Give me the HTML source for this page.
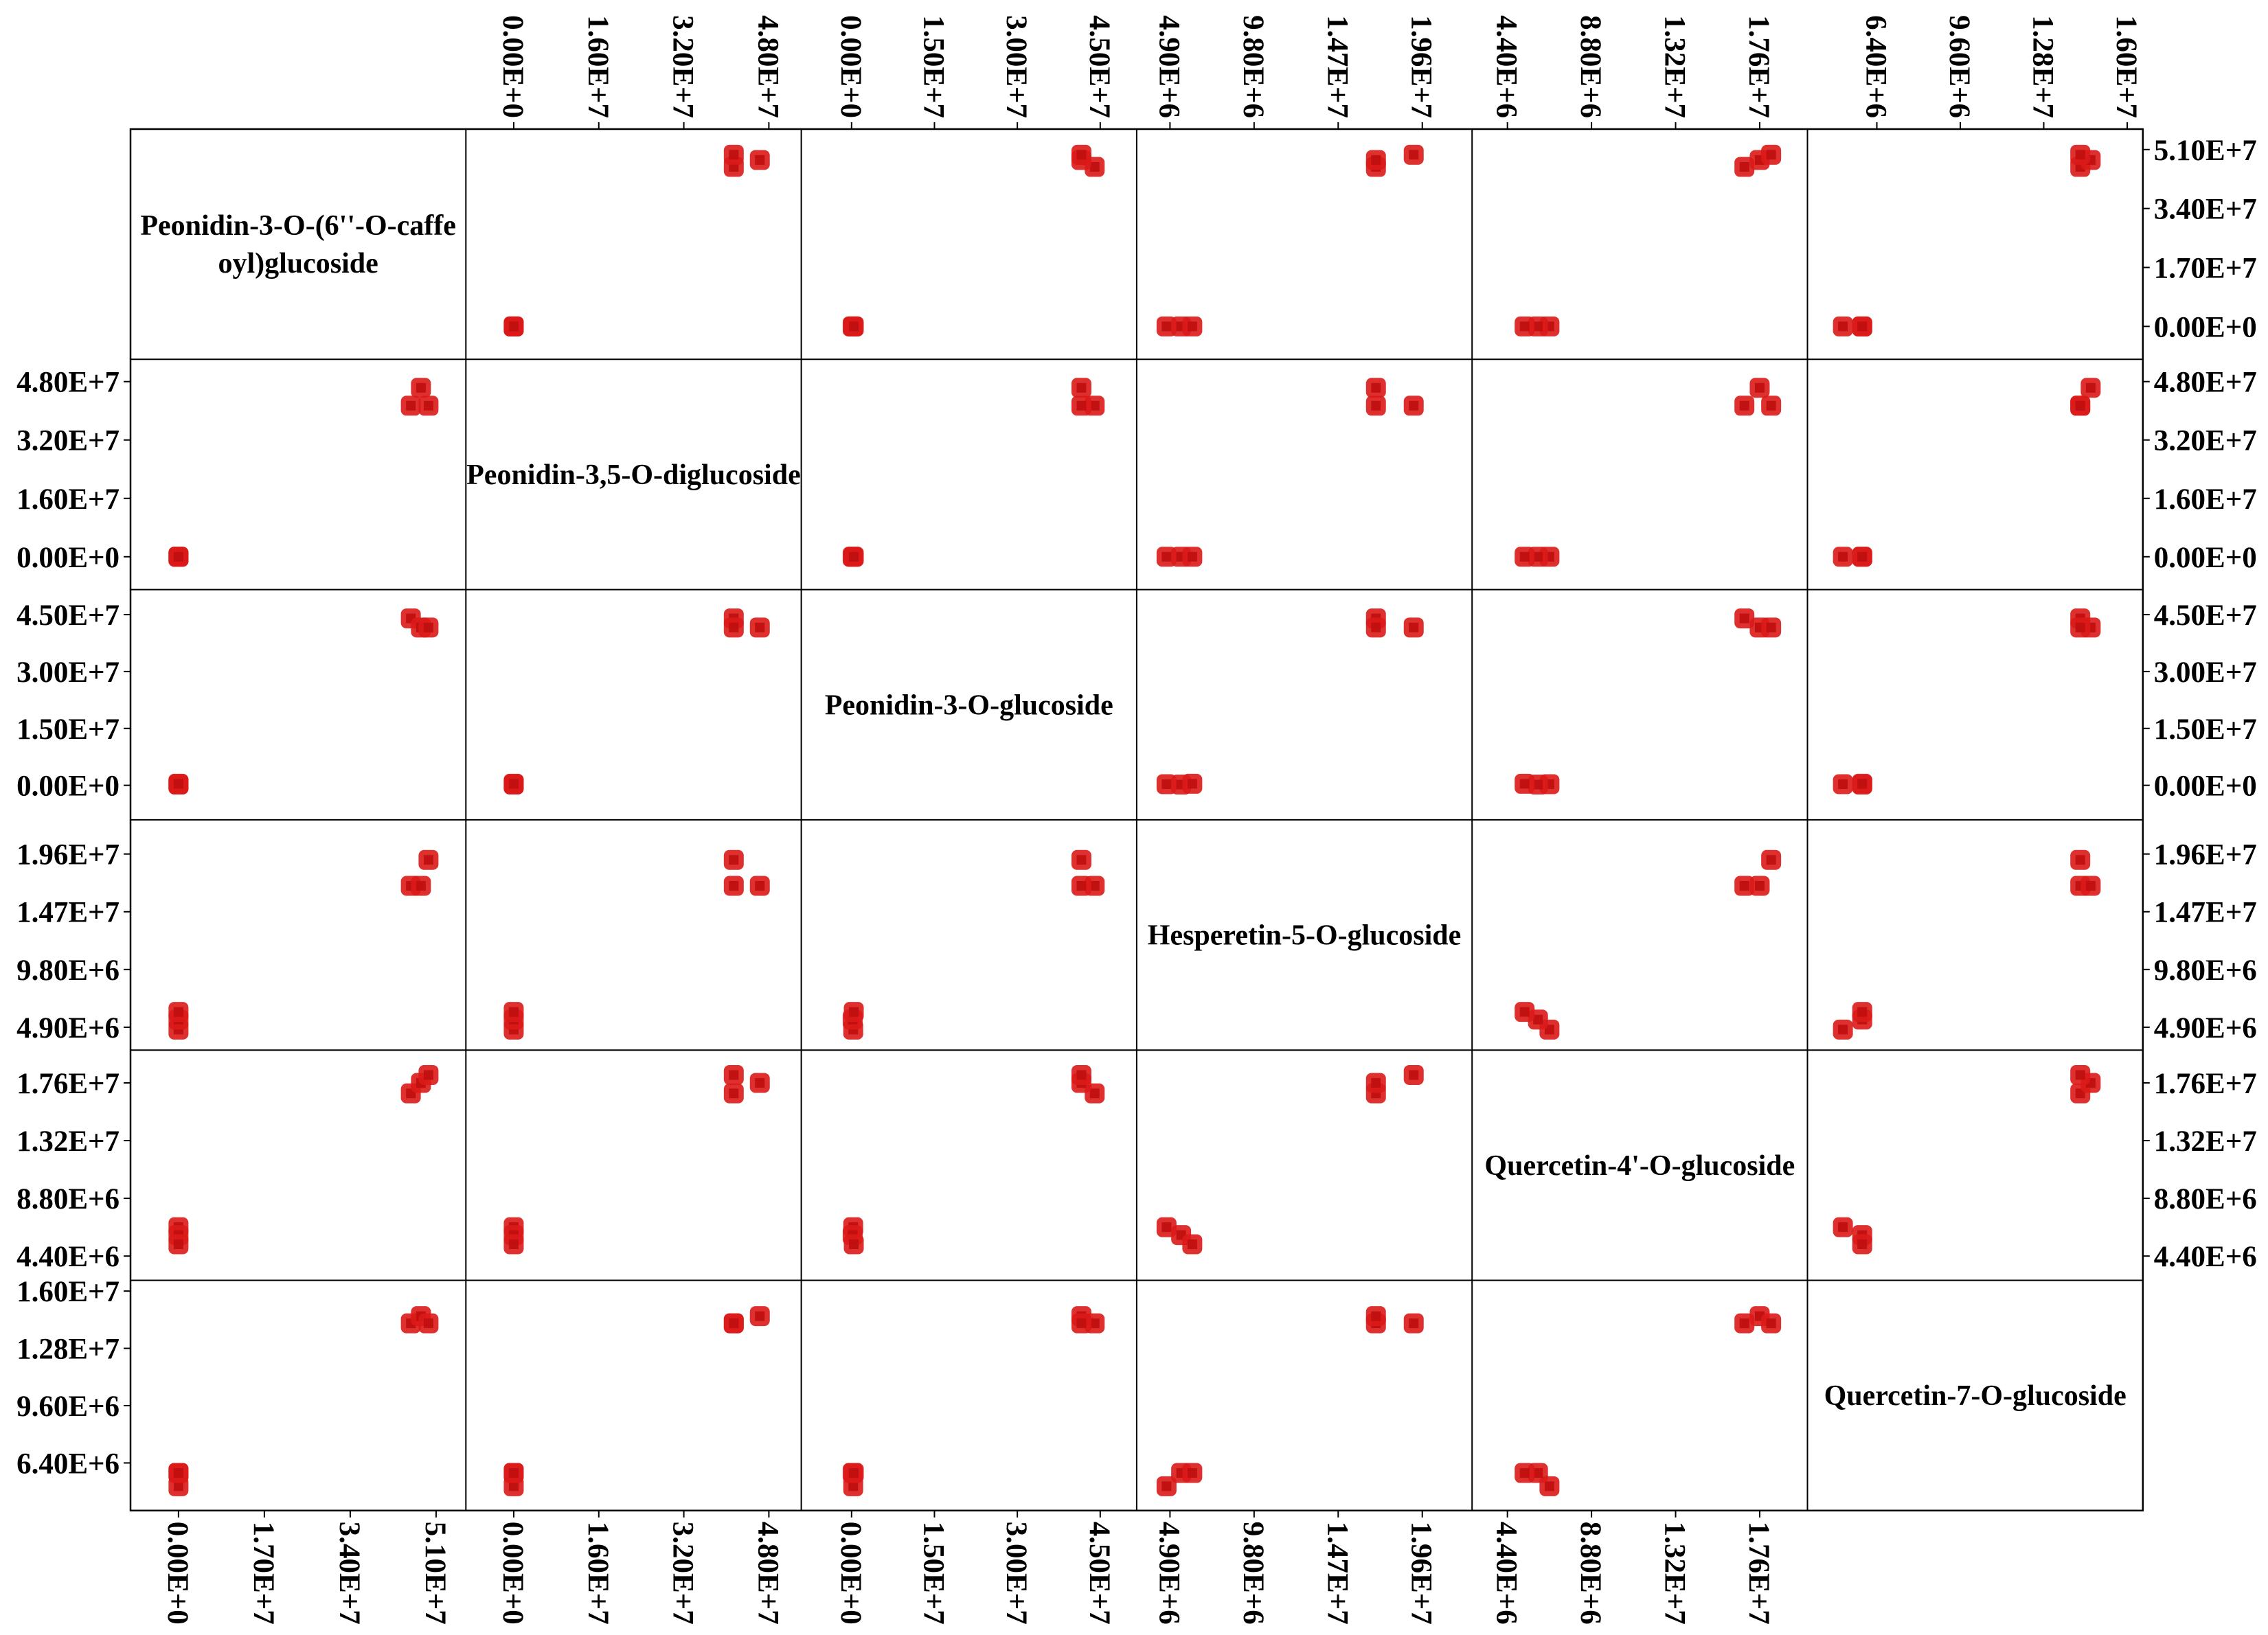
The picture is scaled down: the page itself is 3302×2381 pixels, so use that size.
<!DOCTYPE html>
<html><head><meta charset="utf-8">
<style>
html,body{margin:0;padding:0;background:#fff;}
svg{display:block;}
text{font-family:"Liberation Serif",serif;font-weight:bold;fill:#000;}
</style></head>
<body>
<svg id="chart" width="3302" height="2381" viewBox="0 0 3302 2381" xmlns="http://www.w3.org/2000/svg"></svg>
<script>
// variable names (diagonal)
const varNames = ["Peonidin-3-O-(6''-O-caffe|oyl)glucoside","Peonidin-3,5-O-diglucoside","Peonidin-3-O-glucoside","Hesperetin-5-O-glucoside","Quercetin-4'-O-glucoside","Quercetin-7-O-glucoside"];
// tick values per variable
const tickValues = [
  [0,1.7e7,3.4e7,5.1e7],
  [0,1.6e7,3.2e7,4.8e7],
  [0,1.5e7,3.0e7,4.5e7],
  [4.9e6,9.8e6,1.47e7,1.96e7],
  [4.4e6,8.8e6,1.32e7,1.76e7],
  [6.4e6,9.6e6,1.28e7,1.6e7]
];
const tickLabels = [
  ["0.00E+0","1.70E+7","3.40E+7","5.10E+7"],
  ["0.00E+0","1.60E+7","3.20E+7","4.80E+7"],
  ["0.00E+0","1.50E+7","3.00E+7","4.50E+7"],
  ["4.90E+6","9.80E+6","1.47E+7","1.96E+7"],
  ["4.40E+6","8.80E+6","1.32E+7","1.76E+7"],
  ["6.40E+6","9.60E+6","1.28E+7","1.60E+7"]
];
// axis ranges per variable
const rangeMin = [-0.95e7,-0.90e7,-0.91e7,2.96e6,2.55e6,3.74e6];
const rangeMax = [5.69e7,5.41e7,5.16e7,2.25e7,2.01e7,1.66e7];
// sample values (6 samples) per variable
const var1 = [0.0,0.0,0.0,4.60e7,4.80e7,4.95e7];
const var2 = [0.0,0.0,0.0,4.14e7,4.63e7,4.14e7];
const var3 = [0.03e7,0.02e7,0.04e7,4.40e7,4.16e7,4.16e7];
const var4 = [4.7e6,5.55e6,6.2e6,1.69e7,1.69e7,1.91e7];
const var5 = [6.6e6,6.0e6,5.3e6,1.68e7,1.76e7,1.82e7];
const var6 = [5.1e6,5.84e6,5.84e6,1.42e7,1.46e7,1.42e7];
const seriesVals = [var1,var2,var3,var4,var5,var6];

const NS="http://www.w3.org/2000/svg";
const svg=document.getElementById('chart');
const L=190,T=188,CW=488.3,RH=335.3,N=6;
function mk(tag,attrs,parent){const e=document.createElementNS(NS,tag);for(const k in attrs)e.setAttribute(k,attrs[k]);(parent||svg).appendChild(e);return e;}
function xScale(v,col){return L+col*CW+(v-rangeMin[col])/(rangeMax[col]-rangeMin[col])*CW;}
function yScale(v,row){return T+(row+1)*RH-(v-rangeMin[row])/(rangeMax[row]-rangeMin[row])*RH;}

// grid lines
for(let i=1;i<N;i++){
  const v=mk('line',{x1:L+i*CW,y1:T,x2:L+i*CW,y2:T+N*RH,stroke:'#000','stroke-width':2});
  
  
  const h=mk('line',{x1:L,y1:T+i*RH,x2:L+N*CW,y2:T+i*RH,stroke:'#000','stroke-width':2});
  
  
}
const border=mk('rect',{x:L,y:T,width:N*CW,height:N*RH,fill:'none',stroke:'#000','stroke-width':2.5});



// diagonal titles
for(let i=0;i<N;i++){
  const parts=varNames[i].split('|');
  const cx=L+i*CW+CW/2, cy=T+i*RH+RH/2;
  const t=mk('text',{x:cx,'text-anchor':'middle','font-size':42});
  
  
  parts.forEach((p,k)=>{const ts=mk('tspan',{x:cx,y:cy+14+(k-(parts.length-1)/2)*55},t);ts.textContent=p;});
}

// axes ticks
const FS=43;
for(let c=0;c<N;c++){
  for(let k=0;k<4;k++){
    const x=xScale(tickValues[c][k],c);
    if(c>=1){ // top
      const tl=mk('line',{x1:x,y1:T,x2:x,y2:T-10,stroke:'#000','stroke-width':2});
      
      
      const tx=mk('text',{x:0,y:0,'font-size':FS,'text-anchor':'end',transform:`translate(${x-15},${T-16}) rotate(90)`});
      
      
      tx.textContent=tickLabels[c][k];
    }
    if(c<=4){ // bottom
      const yb=T+N*RH;
      const tl=mk('line',{x1:x,y1:yb,x2:x,y2:yb+10,stroke:'#000','stroke-width':2});
      
      
      const tx=mk('text',{x:0,y:0,'font-size':FS,'text-anchor':'start',transform:`translate(${x-15},${yb+16}) rotate(90)`});
      
      
      tx.textContent=tickLabels[c][k];
    }
  }
}
for(let r=0;r<N;r++){
  for(let k=0;k<4;k++){
    const y=yScale(tickValues[r][k],r);
    if(r>=1){ // left
      const tl=mk('line',{x1:L,y1:y,x2:L-10,y2:y,stroke:'#000','stroke-width':2});
      
      
      const tx=mk('text',{x:L-16,y:y+15,'font-size':FS,'text-anchor':'end'});
      
      
      tx.textContent=tickLabels[r][k];
    }
    if(r<=4){ // right
      const xr=L+N*CW;
      const tl=mk('line',{x1:xr,y1:y,x2:xr+10,y2:y,stroke:'#000','stroke-width':2});
      
      
      const tx=mk('text',{x:xr+16,y:y+15,'font-size':FS,'text-anchor':'start'});
      
      
      tx.textContent=tickLabels[r][k];
    }
  }
}

// points
const MS=29, IS=14;
for(let r=0;r<N;r++){
  for(let c=0;c<N;c++){
    if(r===c) continue;
    const xs=seriesVals[c], ys=seriesVals[r];
    for(let s=0;s<xs.length;s++){
      const px=xScale(xs[s],c), py=yScale(ys[s],r);
      const g=mk('g',{});
      
      
      mk('rect',{x:px-MS/2,y:py-MS/2,width:MS,height:MS,rx:8,ry:8,fill:'#dc1a1a','fill-opacity':0.9},g);
      mk('rect',{x:px-IS/2,y:py-IS/2,width:IS,height:IS,fill:'#bf0e0e','fill-opacity':0.9},g);
    }
  }
}
</script>
</body></html>
